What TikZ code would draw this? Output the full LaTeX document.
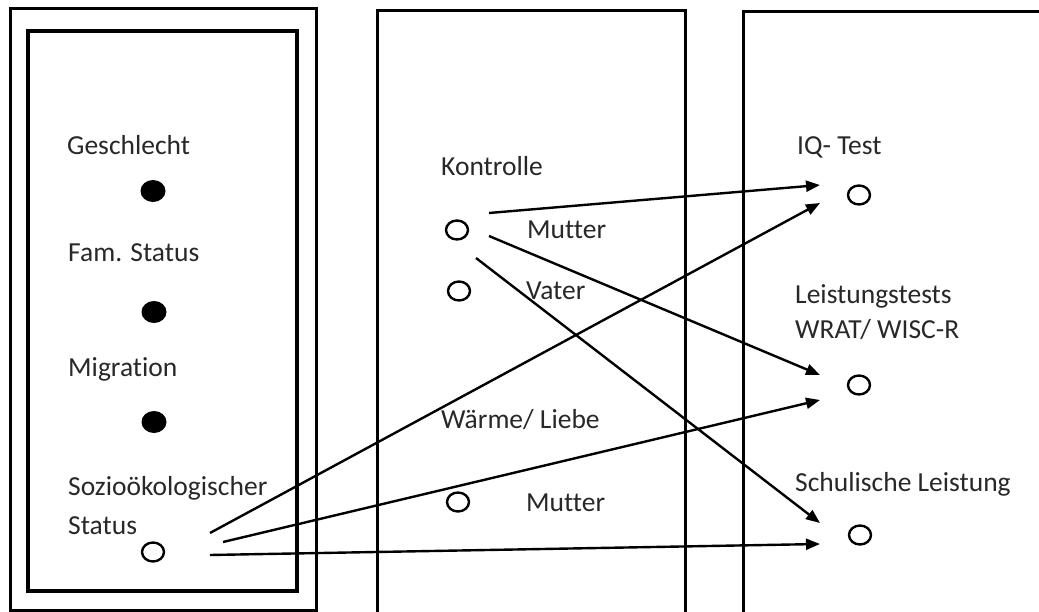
\documentclass[tikz,border=0pt]{standalone}
\usepackage{fontspec}
\setmainfont{Carlito}[Ligatures=NoCommon]
\usetikzlibrary{shapes.geometric,arrows.meta}
\definecolor{txt}{RGB}{40,40,40}
\begin{document}
\begin{tikzpicture}[x=1pt,y=-1pt,
  lbl/.style={anchor=base west,inner sep=0pt,text=txt,font=\fontsize{27.5}{31}\selectfont},
  fdot/.style={ellipse,fill=black,minimum width=25pt,minimum height=22pt,inner sep=0pt},
  odot/.style={ellipse,draw=black,line width=2.4pt,minimum width=22pt,minimum height=19pt,inner sep=0pt},
  frame/.style={draw=black,line width=3pt},
  arr/.style={line width=2.4pt,-{Triangle[length=14pt,width=11pt]}}]
\useasboundingbox (0,0) rectangle (1039,612);
\clip (0,0) rectangle (1039,612);
\fill[white] (0,0) rectangle (1039,612);
% frames
\draw[frame] (10,9) rectangle (316,610);
\draw[frame,line width=4pt] (28,31) rectangle (297,591);
\draw[frame] (377,11) rectangle (685,630);
\draw[frame] (743,12) rectangle (1060,630);
% left column
\node[lbl] (tg) at (67,155) {Geschlecht};
\node[fdot] (dg) at (153,191) {};
\node[lbl] (tf) at (68,262) {Fam. Status};
\node[fdot] (df) at (154,312) {};
\node[lbl] (tm) at (68,376) {Migration};
\node[fdot] (dm) at (154,422) {};
\node[lbl] (ts1) at (68,495) {Sozioökologischer};
\node[lbl] (ts2) at (68,534) {Status};
\node[odot] (ds) at (153,552) {};
% middle column
\node[lbl] (tk) at (441,176) {Kontrolle};
\node[odot] (dkm) at (457,230) {};
\node[lbl] (tkm) at (527,239) {Mutter};
\node[odot] (dkv) at (459,291) {};
\node[lbl] (tkv) at (526,300) {Vater};
\node[lbl] (tw) at (441,428) {Wärme/ Liebe};
\node[odot] (dwm) at (458,502) {};
\node[lbl] (twm) at (526,511) {Mutter};
% right column
\node[lbl] (tiq) at (797,155) {IQ- Test};
\node[odot] (diq) at (859,195) {};
\node[lbl] (tl1) at (795,304) {Leistungstests};
\node[lbl] (tl2) at (795,339) {WRAT/ WISC-R};
\node[odot] (dl) at (859,385) {};
\node[lbl] (tsl) at (795,491) {Schulische Leistung};
\node[odot] (dsl) at (860,535) {};
% connector end points
\coordinate (k1) at (489,213);
\coordinate (k2) at (489,236);
\coordinate (k3) at (476,258);
\coordinate (s1) at (210,533);
\coordinate (s2) at (223,542);
\coordinate (s3) at (210,555);
\coordinate (iq1) at (820,185);
\coordinate (iq2) at (820,203);
\coordinate (l1) at (820,375);
\coordinate (l2) at (820,400);
\coordinate (sl1) at (820,523);
\coordinate (sl2) at (820,544);
\draw[arr] (k1) -- (iq1);
\draw[arr] (k2) -- (l1);
\draw[arr] (k3) -- (sl1);
\draw[arr] (s1) -- (iq2);
\draw[arr] (s2) -- (l2);
\draw[arr] (s3) -- (sl2);
\end{tikzpicture}
\end{document}
